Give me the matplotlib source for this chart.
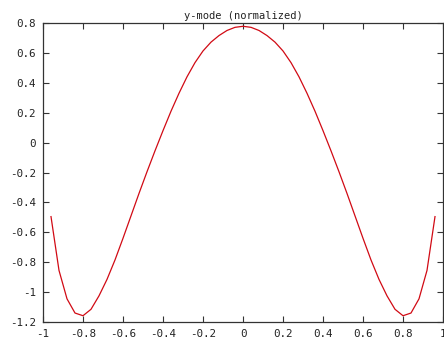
import matplotlib
matplotlib.use("Agg")
import matplotlib.pyplot as plt

# sampled mode profile
x_pos = [-0.96, -0.92, -0.88, -0.84, -0.80, -0.76, -0.72, -0.68, -0.64, -0.60,
         -0.56, -0.52, -0.48, -0.44, -0.40, -0.36, -0.32, -0.28, -0.24, -0.20,
         -0.16, -0.12, -0.08, -0.04, 0.00, 0.04, 0.08, 0.12, 0.16, 0.20,
         0.24, 0.28, 0.32, 0.36, 0.40, 0.44, 0.48, 0.52, 0.56, 0.60,
         0.64, 0.68, 0.72, 0.76, 0.80, 0.84, 0.88, 0.92, 0.96]
y_mode = [-0.495, -0.855, -1.045, -1.140, -1.158, -1.115, -1.025, -0.915, -0.785, -0.640,
          -0.490, -0.340, -0.195, -0.055, 0.080, 0.210, 0.330, 0.440, 0.535, 0.613,
          0.672, 0.716, 0.750, 0.771, 0.778, 0.771, 0.750, 0.716, 0.672, 0.613,
          0.535, 0.440, 0.330, 0.210, 0.080, -0.055, -0.195, -0.340, -0.490, -0.640,
          -0.785, -0.915, -1.025, -1.115, -1.158, -1.140, -1.045, -0.855, -0.495]

x_ticks = [-1, -0.8, -0.6, -0.4, -0.2, 0, 0.2, 0.4, 0.6, 0.8, 1]
x_labels = ["-1", "-0.8", "-0.6", "-0.4", "-0.2", "0", "0.2", "0.4", "0.6", "0.8", "1"]
y_ticks = [-1.2, -1, -0.8, -0.6, -0.4, -0.2, 0, 0.2, 0.4, 0.6, 0.8]
y_labels = ["-1.2", "-1", "-0.8", "-0.6", "-0.4", "-0.2", "0", "0.2", "0.4", "0.6", "0.8"]

plt.rcParams["font.family"] = ["DejaVu Sans Mono"]

fig = plt.figure(figsize=(4.44, 3.62), dpi=100)
ax = fig.add_axes([43 / 444, 40 / 362, 400 / 444, 299 / 362])

ax.plot(x_pos, y_mode, color="#d10a14", linewidth=0.9)

ax.set_xlim(-1, 1)
ax.set_ylim(-1.2, 0.8)
ax.set_xticks(x_ticks)
ax.set_xticklabels(x_labels)
ax.set_yticks(y_ticks)
ax.set_yticklabels(y_labels)

ax.tick_params(direction="in", length=4, width=0.8, color="#333333",
               top=True, right=True, labelsize=7.8, labelcolor="#222222")
ax.tick_params(axis="x", pad=5)
ax.tick_params(axis="y", pad=5)
for s in ax.spines.values():
    s.set_linewidth(0.9)
    s.set_color("#333333")

ax.set_title("y-mode (normalized)", fontsize=7.5, pad=3, color="#222222")

fig.savefig("out.png", dpi=100)
